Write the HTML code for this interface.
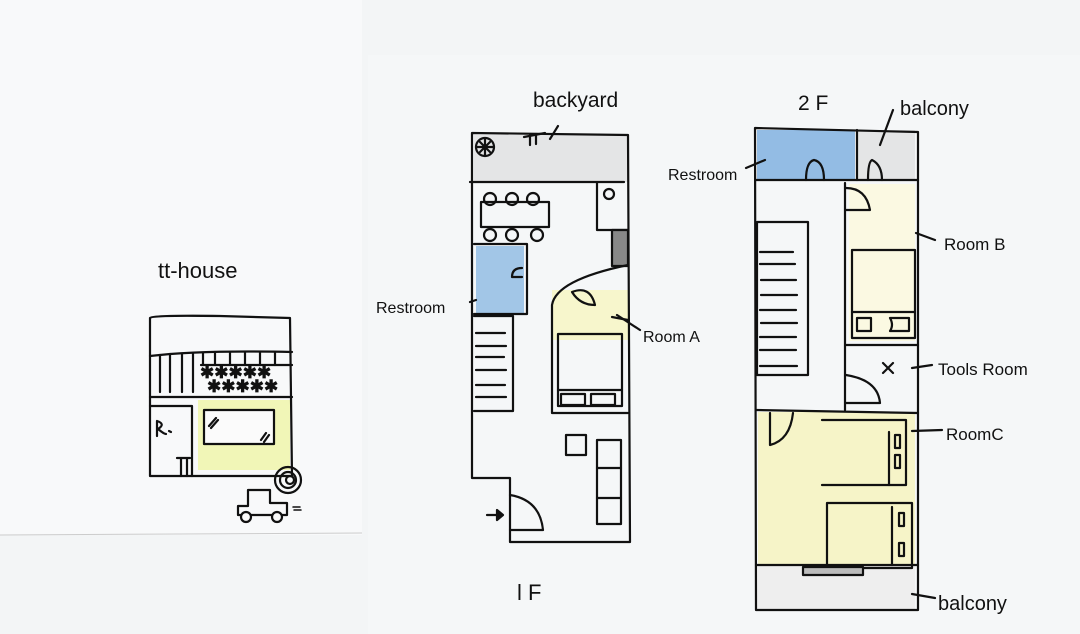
<!DOCTYPE html>
<html><head><meta charset="utf-8"><style>
html,body{margin:0;padding:0;background:#f2f4f5;}
svg{display:block}
text{font-family:"Liberation Sans",sans-serif;fill:#111;}
</style></head><body>
<svg width="1080" height="634" viewBox="0 0 1080 634" xmlns="http://www.w3.org/2000/svg">
<rect x="0" y="0" width="1080" height="634" fill="#f3f5f6"/>
<rect x="0" y="0" width="362" height="535" fill="#f8f9fa"/>
<rect x="368" y="55" width="712" height="579" fill="#f5f7f8"/>
<line x1="0" y1="535" x2="362" y2="533" stroke="#ccc" stroke-width="1"/>
<g fill="none" stroke="#111" stroke-width="2.2" stroke-linecap="round" stroke-linejoin="round">
<!-- tt-house -->
<rect x="198" y="400" width="92" height="70" fill="#eef59a" stroke="none" opacity="0.7"/>
<path d="M150,318 Q152,315 220,316 L290,318 L292,476 L150,476 Z"/>
<path d="M150,356 Q200,350 292,352"/>
<path d="M150,397 L292,397"/>
<path d="M160,355 V392 M170,354 V392 M182,354 V392 M193,353 V392 M203,353 V365 M215,352 V365 M230,352 V365 M245,352 V365 M260,352 V365 M275,352 V365"/>
<path d="M201,365 H292"/>
<path d="M150,406 H192 V476"/>
<path d="M177,458 H190 M181,458 V476 M187,458 V476"/>
<rect x="204" y="410" width="70" height="34" fill="#fbfbfb"/>
<path d="M209,426 L216,418 M211,428 L218,420 M261,440 L266,433 M264,442 L269,435"/>
<path d="M157,421 V436 M157,421 Q166,424 158,429 Q164,434 166,434 M169,431 L171,432"/>
<circle cx="288" cy="480" r="13"/><circle cx="288" cy="480" r="8"/><circle cx="290" cy="480" r="4"/>
<path d="M238,506 H248 V490 H270 V503 H287 V515 H238 Z"/>
<circle cx="246" cy="517" r="5" fill="#fafafa"/><circle cx="277" cy="517" r="5" fill="#fafafa"/>
<path d="M293,507 H300 M294,510 H301" stroke-width="1.5"/>
<text x="200" y="378" style="font-size:17px;font-weight:bold" stroke="none">✱✱✱✱✱</text>
<text x="207" y="392" style="font-size:17px;font-weight:bold" stroke="none">✱✱✱✱✱</text>
<!-- 1F -->
<rect x="474" y="135" width="154" height="47" fill="#e4e5e6" stroke="none"/>
<rect x="476" y="246" width="48" height="68" fill="#7fb0e0" stroke="none" opacity="0.7"/>
<rect x="552" y="290" width="76" height="50" fill="#f7f6cc" stroke="none"/>
<path d="M472,133 L628,135 L630,542 L510,542 L510,478 L472,478 Z"/>
<path d="M470,182 H624"/>
<path d="M597,183 V230 H628"/>
<circle cx="609" cy="194" r="5"/>
<rect x="612" y="230" width="16" height="36" fill="#888" stroke="#111"/>
<circle cx="485" cy="147" r="9"/><path d="M480,142 L490,152 M490,142 L480,152 M485,138 V156 M476,147 H494"/>
<path d="M524,137 L545,133 M530,135 V145 M536,134 V144 M558,126 L550,139"/>
<rect x="481" y="202" width="68" height="25"/>
<circle cx="490" cy="199" r="6"/><circle cx="512" cy="199" r="6"/><circle cx="533" cy="199" r="6"/>
<circle cx="490" cy="235" r="6"/><circle cx="512" cy="235" r="6"/><circle cx="537" cy="235" r="6"/>
<path d="M474,244 H527 V314 H474"/>
<path d="M512,277 Q512,268 522,268 M512,277 H522"/>
<path d="M474,316 H513 V411 H474"/>
<path d="M476,333 H505 M476,346 H506 M476,357 H504 M476,370 H506 M476,385 H505 M476,397 H506"/>
<path d="M628,265 Q556,280 552,305 V413 H628"/>
<path d="M572,292 Q590,285 595,305 Q580,305 572,292"/>
<rect x="558" y="334" width="64" height="72"/>
<path d="M558,390 H622"/>
<rect x="561" y="394" width="24" height="11"/><rect x="591" y="394" width="24" height="11"/>
<rect x="566" y="435" width="20" height="20"/>
<rect x="597" y="440" width="24" height="84"/>
<path d="M597,468 H621 M597,498 H621"/>
<path d="M510,495 Q540,500 543,530 H510"/>
<path d="M487,515 H499"/><path d="M497,510 L503,515 L497,520 Z" fill="#111"/>
<path d="M470,302 L476,300 M612,317 L628,320"/>
<!-- 2F -->
<rect x="757" y="130" width="98" height="50" fill="#6aa2dc" stroke="none" opacity="0.7"/>
<rect x="858" y="130" width="57" height="50" fill="#e4e5e6" stroke="none"/>
<rect x="849" y="184" width="66" height="157" fill="#fbf9e2" stroke="none"/>
<rect x="758" y="412" width="157" height="152" fill="#f6f2a8" stroke="none" opacity="0.6"/>
<rect x="757" y="566" width="158" height="44" fill="#eeeeee" stroke="none"/>
<path d="M755,128 L918,132 L918,610 L756,610 Z"/>
<path d="M857,130 V180"/>
<path d="M756,180 H918"/>
<path d="M806,180 Q806,162 814,160 Q824,162 824,180 M868,180 Q868,162 872,160 Q882,165 882,180"/>
<path d="M845,183 V410"/>
<path d="M846,188 Q866,188 870,210 H846"/>
<rect x="757" y="222" width="51" height="153"/>
<path d="M760,252 H793 M760,264 H795 M761,280 H796 M761,295 H797 M760,310 H796 M761,323 H797 M760,337 H796 M760,350 H796 M760,366 H797"/>
<rect x="852" y="250" width="63" height="88"/>
<path d="M852,312 H915"/>
<rect x="857" y="318" width="14" height="13"/><path d="M890,318 H909 V331 H890 Q894,325 890,318"/>
<path d="M846,345 H918"/>
<path d="M883,363 L893,373 M893,363 L883,373"/>
<path d="M846,375 Q878,380 880,403 H846"/>
<path d="M756,410 L918,413"/>
<path d="M770,413 V445 Q790,440 793,413"/>
<path d="M822,420 H906 V485 H822"/>
<path d="M889,432 V485 M895,435 V448 H900 V435 Z M895,455 V468 H900 V455 Z"/>
<path d="M827,503 H912 V568 H827 Z"/>
<path d="M892,507 V565 M899,513 V526 H904 V513 Z M899,543 V556 H904 V543 Z"/>
<path d="M756,565 H918"/>
<rect x="803" y="567" width="60" height="8" fill="#bbb"/>
<path d="M617,315 L640,330 M916,233 L935,240 M912,368 L932,365 M912,431 L942,430 M912,594 L935,598 M746,168 L765,160 M880,145 L893,110"/>
</g>
<g style="font-size:19px">
<text x="158" y="278" style="font-size:22px">tt-house</text>
<text x="533" y="107" style="font-size:21px">backyard</text>
<text x="376" y="313" style="font-size:16px">Restroom</text>
<text x="643" y="342" style="font-size:16px">Room A</text>
<text x="517" y="600" style="font-size:22px">l F</text>
<text x="798" y="110" style="font-size:21px">2 F</text>
<text x="900" y="115" style="font-size:20px">balcony</text>
<text x="668" y="180" style="font-size:16px">Restroom</text>
<text x="944" y="250" style="font-size:17px">Room B</text>
<text x="938" y="375" style="font-size:17px">Tools Room</text>
<text x="946" y="440" style="font-size:17px">RoomC</text>
<text x="938" y="610" style="font-size:20px">balcony</text>
</g>
</svg>
</body></html>
